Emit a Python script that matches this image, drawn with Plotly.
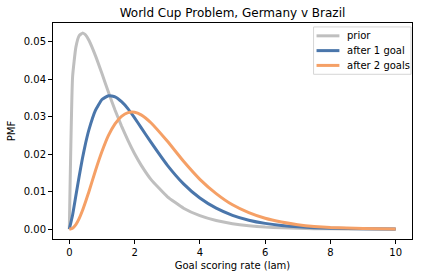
import plotly.graph_objects as go

lam = [0, 0.1, 0.2, 0.3, 0.4, 0.5, 0.6, 0.8, 1.0, 1.2, 1.4, 1.6, 1.8, 2.0, 2.2, 2.5,
       3.0, 3.5, 4.0, 4.5, 5.0, 5.5, 6.0, 6.5, 7.0, 7.5, 8.0, 9.0, 10.0]
prior = [0.0, 0.0406, 0.0485, 0.0516, 0.0523, 0.0518, 0.0504, 0.0463, 0.0415, 0.0365,
         0.0318, 0.0275, 0.0236, 0.0201, 0.0171, 0.0133, 0.0087, 0.0056, 0.0036, 0.0023,
         0.00145, 0.00091, 0.00057, 0.00036, 0.00022, 0.00014, 0.00009, 0.00003, 0.00001]
after1 = [0.0, 0.0038, 0.0089, 0.0140, 0.0188, 0.0230, 0.0265, 0.0317, 0.0346, 0.0356,
          0.0353, 0.0340, 0.0321, 0.0297, 0.0271, 0.0232, 0.0171, 0.0121, 0.0083, 0.0056,
          0.0037, 0.0024, 0.00155, 0.00099, 0.00063, 0.00039, 0.00025, 0.00009, 0.00004]
after2 = [0.0, 0.00026, 0.0012, 0.0028, 0.0049, 0.0074, 0.0100, 0.0156, 0.0207, 0.0250,
          0.0281, 0.0301, 0.0311, 0.0312, 0.0305, 0.0284, 0.0235, 0.0181, 0.0133, 0.0095,
          0.0065, 0.0044, 0.0029, 0.0019, 0.0012, 0.00074, 0.00046, 0.00018, 0.00006]

names = ["prior", "after 1 goal", "after 2 goals"]
colors = ["#bfbfbf", "#4a76ab", "#f5a066"]
values = [prior, after1, after2]

W, H = 424, 280
L, R, T, B = 52, 413, 23, 242

def px(xp):
    return (xp - L) / (R - L)

def py(yp):
    return (B - yp) / (B - T)

fig = go.Figure()
for name, ys, col in zip(names, values, colors):
    fig.add_trace(go.Scatter(x=lam, y=ys, name=name, mode="lines", showlegend=False,
                             line=dict(color=col, width=3, shape="spline", smoothing=0.4)))

font = "DejaVu Sans"
axis_common = dict(showline=True, linecolor="black", linewidth=1, mirror=True,
                   ticks="outside", ticklen=4, tickcolor="black", showgrid=False,
                   zeroline=False, tickfont=dict(family=font, size=10, color="black"))
fig.update_xaxes(range=[-0.5, 10.5], tickvals=[0, 2, 4, 6, 8, 10],
                 title=dict(text="Goal scoring rate (lam)", font=dict(family=font, size=10, color="black"), standoff=4),
                 **axis_common)
fig.update_yaxes(range=[-0.00262, 0.0550], tickvals=[0, 0.01, 0.02, 0.03, 0.04, 0.05],
                 tickformat=".2f",
                 title=dict(text="PMF", font=dict(family=font, size=10, color="black"), standoff=6),
                 **axis_common)

# legend drawn as a matplotlib-style box
shapes = [dict(type="rect", xref="paper", yref="paper",
               x0=px(314), x1=px(413 - 1), y0=py(75), y1=py(27),
               line=dict(color="#d5d5d5", width=1), fillcolor="rgba(255,255,255,0.8)", layer="above")]
annotations = []
for i, (name, col) in enumerate(zip(names, colors)):
    yy = 36 + 15 * i
    shapes.append(dict(type="line", xref="paper", yref="paper",
                       x0=px(317), x1=px(340), y0=py(yy), y1=py(yy),
                       line=dict(color=col, width=3), layer="above"))
    annotations.append(dict(text=name, xref="paper", yref="paper", x=px(346), y=py(yy),
                            xanchor="left", yanchor="middle", showarrow=False,
                            font=dict(family=font, size=10, color="black")))

fig.update_layout(
    width=W, height=H,
    margin=dict(l=L, r=W - R, t=T, b=H - B),
    plot_bgcolor="white", paper_bgcolor="white",
    title=dict(text="World Cup Problem, Germany v Brazil", x=(L + R) / 2 / W, xanchor="center",
               y=1 - 13 / H, yanchor="middle", font=dict(family=font, size=12, color="black")),
    shapes=shapes, annotations=annotations,
    showlegend=False,
)
fig.write_html("out.html")
